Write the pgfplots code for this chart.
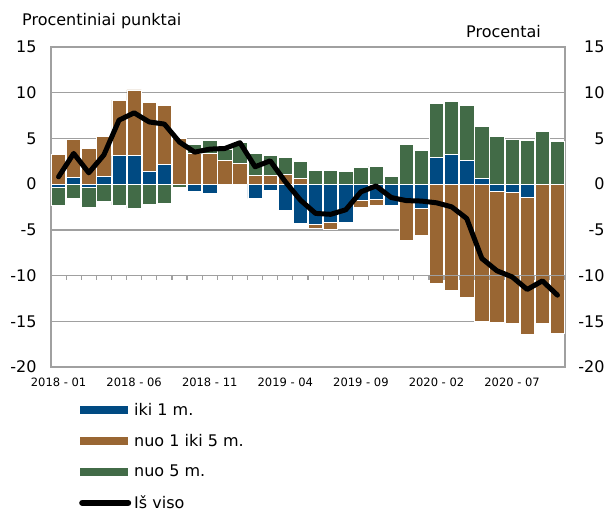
\documentclass[border=0pt]{standalone}
\usepackage{pgfplots}
\pgfplotsset{compat=1.18}
\usepackage{pgfplotstable}
\usepackage{fontspec}
\setmainfont{DejaVu Sans}
\definecolor{cblue}{RGB}{0,74,130}
\definecolor{cbrown}{RGB}{153,102,51}
\definecolor{cgreen}{RGB}{66,107,71}
\definecolor{cgrid}{RGB}{160,160,160}

\pgfplotstableread{
idx blue brown green total
0 -0.30 3.25 -2.00 0.80
1 0.73 4.16 -1.60 3.36
2 -0.40 3.90 -2.10 1.24
3 0.80 4.38 -1.90 3.20
4 3.10 6.10 -2.30 7.00
5 3.10 7.20 -2.66 7.80
6 1.42 7.52 -2.20 6.80
7 2.15 6.43 -2.05 6.57
8 -0.05 4.96 -0.25 4.60
9 -0.84 3.36 0.98 3.50
10 -1.00 3.36 1.45 3.83
11 -0.10 2.60 1.20 3.90
12 0.00 2.26 2.26 4.53
13 -1.57 0.99 2.37 1.90
14 -0.73 0.99 2.19 2.55
15 -2.85 1.10 1.82 0.26
16 -4.30 0.62 1.83 -1.75
17 -4.38 -0.47 1.53 -3.20
18 -4.23 -0.69 1.53 -3.30
19 -4.15 -0.05 1.35 -2.80
20 -1.75 -0.80 1.82 -0.84
21 -1.68 -0.62 1.97 -0.20
22 -2.30 -0.05 0.88 -1.46
23 -1.75 -4.35 4.34 -1.80
24 -2.66 -2.94 3.70 -1.85
25 2.88 -10.87 5.95 -2.04
26 3.25 -11.60 5.76 -2.48
27 2.55 -12.40 6.03 -3.76
28 0.62 -15.06 5.73 -8.13
29 -0.84 -14.33 5.26 -9.48
30 -0.95 -14.29 4.89 -10.14
31 -1.39 -15.00 4.82 -11.52
32 0.00 -15.24 5.80 -10.58
33 0.00 -16.27 4.70 -12.14
}\datatable

\pgfplotsset{
  base/.style={
    scale only axis, width=514pt, height=320pt,
    anchor=south west, at={(51pt,-367pt)},
    xmin=-0.5, xmax=33.5, ymin=-20, ymax=15,
    font=\fontsize{16}{19}\selectfont,
    /pgf/number format/assume math mode=true,
  },
  barsty/.style={ybar stacked, bar width=14.3pt},
  barfill/.style={fill=#1, draw=white, line width=0.7pt},
}

\begin{document}
\begin{tikzpicture}
\path[use as bounding box] (0pt,0pt) rectangle (609pt,-513pt);
% Axis A: grid, positive bars, left labels, x labels
\begin{axis}[base, barsty,
  axis line style={cgrid, line width=1.3pt},
  ymajorgrids, grid style={cgrid, line width=1.3pt},
  ytick={-20,-15,...,15},
  yticklabel style={xshift=-11pt},
  xtick={0,5,...,30},
  xticklabels={2018 - 01,2018 - 06,2018 - 11,2019 - 04,2019 - 09,2020 - 02,2020 - 07},
  xticklabel style={font=\fontsize{11.5}{13}\selectfont, yshift=-7pt},
  major tick length=0pt,
]
\addplot[barfill=cblue] table[x=idx, y expr={max(\thisrow{blue},0)}] {\datatable};
\addplot[barfill=cbrown] table[x=idx, y expr={max(\thisrow{brown},0)}] {\datatable};
\addplot[barfill=cgreen] table[x=idx, y expr={max(\thisrow{green},0)}] {\datatable};
\end{axis}
% Axis B: negative bars
\begin{axis}[base, barsty, hide axis]
\addplot[barfill=cblue] table[x=idx, y expr={min(\thisrow{blue},0)}] {\datatable};
\addplot[barfill=cbrown] table[x=idx, y expr={min(\thisrow{brown},0)}] {\datatable};
\addplot[barfill=cgreen] table[x=idx, y expr={min(\thisrow{green},0)}] {\datatable};
\end{axis}
% Axis C: category axis at -10, line, right labels, legend
\begin{axis}[base,
  axis line style={draw=none},
  xtick=\empty,
  ytick={-20,-15,...,15},
  yticklabel pos=right,
  yticklabel style={anchor=east, xshift=43pt},
  major tick length=0pt,
  clip=false,
  legend cell align=left,
  legend style={draw=none, fill=none, at={(rel axis cs:0,0)}, anchor=north west,
    xshift=22pt, yshift=-32pt, row sep=13.3pt,
    font=\fontsize{16}{19}\selectfont},
]
\draw[cgrid, line width=1.3pt] (axis cs:-0.5,-10) -- (axis cs:33.5,-10);
\pgfplotsinvokeforeach{0,...,33}{
  \draw[cgrid, line width=1.2pt] (axis cs:#1+0.5,-10) -- ++(0pt,-4pt);
}
\addlegendimage{legend image code/.code={\draw[cblue, line width=8pt] (0pt,0pt) -- (48pt,0pt);}}
\addlegendentry{iki 1 m.}
\addlegendimage{legend image code/.code={\draw[cbrown, line width=8pt] (0pt,0pt) -- (48pt,0pt);}}
\addlegendentry{nuo 1 iki 5 m.}
\addlegendimage{legend image code/.code={\draw[cgreen, line width=8pt] (0pt,0pt) -- (48pt,0pt);}}
\addlegendentry{nuo 5 m.}
\addplot[black, line width=5pt, line join=round, line cap=round,
  legend image code/.code={\draw[black, line width=6pt, line cap=round] (2pt,0pt) -- (48pt,0pt);}]
  table[x=idx, y=total] {\datatable};
\addlegendentry{Iš viso}
\end{axis}
\node[anchor=west, font=\fontsize{16}{19}\selectfont, inner sep=0pt] at (22pt,-21pt) {Procentiniai punktai};
\node[anchor=west, font=\fontsize{16}{19}\selectfont, inner sep=0pt] at (466pt,-32pt) {Procentai};
\end{tikzpicture}
\end{document}
